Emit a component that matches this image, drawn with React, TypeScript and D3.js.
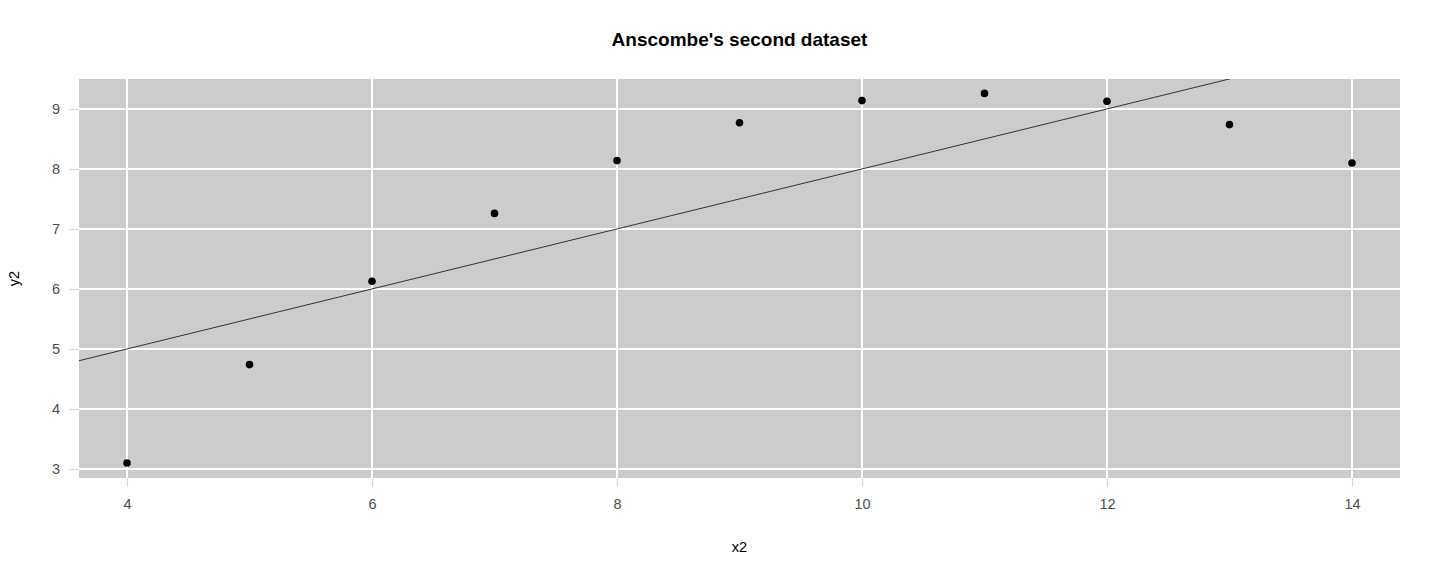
import { useEffect, useRef } from "react";
import * as d3 from "d3";

const x2 = [10, 8, 13, 9, 11, 14, 6, 4, 12, 7, 5];
const y2 = [9.14, 8.14, 8.74, 8.77, 9.26, 8.1, 6.13, 3.1, 9.13, 7.26, 4.74];
const xTicks = [4, 6, 8, 10, 12, 14];
const yTicks = [3, 4, 5, 6, 7, 8, 9];

export default function App() {
  const svgRef = useRef<SVGSVGElement>(null);

  useEffect(() => {
    if (!svgRef.current) return;
    const svg = d3.select(svgRef.current);
    svg.selectAll("*").remove();

    const width = 1440;
    const height = 576;
    const margin = { top: 79, right: 40, bottom: 98, left: 79 };
    const chartW = width - margin.left - margin.right;
    const chartH = height - margin.top - margin.bottom;
    const font = "'Liberation Sans', Arial, Helvetica, sans-serif";

    const x = d3.scaleLinear().domain([3.608, 14.392]).range([0, chartW]);
    const y = d3.scaleLinear().domain([2.85, 9.5]).range([chartH, 0]);

    // least squares fit
    const mx = d3.mean(x2)!;
    const my = d3.mean(y2)!;
    const slope =
      d3.sum(x2, (d, i) => (d - mx) * (y2[i] - my)) / d3.sum(x2, (d) => (d - mx) ** 2);
    const intercept = my - slope * mx;

    svg
      .append("defs")
      .append("clipPath")
      .attr("id", "plot-clip")
      .append("rect")
      .attr("width", chartW)
      .attr("height", chartH);

    const g = svg
      .append("g")
      .attr("transform", `translate(${margin.left},${margin.top})`);

    g.append("rect").attr("width", chartW).attr("height", chartH).attr("fill", "#cccccc");

    g.append("g")
      .selectAll("line")
      .data(xTicks)
      .join("line")
      .attr("x1", (d) => x(d))
      .attr("x2", (d) => x(d))
      .attr("y1", 0)
      .attr("y2", chartH)
      .attr("stroke", "#ffffff")
      .attr("stroke-width", 2);

    g.append("g")
      .selectAll("line")
      .data(yTicks)
      .join("line")
      .attr("y1", (d) => y(d))
      .attr("y2", (d) => y(d))
      .attr("x1", 0)
      .attr("x2", chartW)
      .attr("stroke", "#ffffff")
      .attr("stroke-width", 2);

    const dom = x.domain();
    g.append("line")
      .attr("clip-path", "url(#plot-clip)")
      .attr("x1", x(dom[0]))
      .attr("y1", y(intercept + slope * dom[0]))
      .attr("x2", x(dom[1]))
      .attr("y2", y(intercept + slope * dom[1]))
      .attr("stroke", "#333333")
      .attr("stroke-width", 1);

    g.append("g")
      .selectAll("circle")
      .data(x2)
      .join("circle")
      .attr("cx", (d) => x(d))
      .attr("cy", (d, i) => y(y2[i]))
      .attr("r", 3.8)
      .attr("fill", "#000000");

    g.append("g")
      .attr("transform", `translate(0,${chartH})`)
      .call(d3.axisBottom(x).tickValues(xTicks).tickSize(9).tickPadding(12).tickFormat((d) => String(d)))
      .call((a) => a.select(".domain").remove())
      .call((a) => a.selectAll(".tick line").attr("stroke", "#d9d9d9").attr("stroke-width", 1.2))
      .call((a) =>
        a.selectAll(".tick text").attr("fill", "#4d4d4d").attr("font-size", "14.5px").attr("font-family", font),
      );

    g.append("g")
      .call(d3.axisLeft(y).tickValues(yTicks).tickSize(10).tickPadding(9).tickFormat((d) => String(d)))
      .call((a) => a.select(".domain").remove())
      .call((a) => a.selectAll(".tick line").attr("stroke", "#d9d9d9").attr("stroke-width", 1.2))
      .call((a) =>
        a.selectAll(".tick text").attr("fill", "#4d4d4d").attr("font-size", "14.5px").attr("font-family", font),
      );

    svg
      .append("text")
      .attr("x", margin.left + chartW / 2)
      .attr("y", 46)
      .attr("text-anchor", "middle")
      .attr("font-family", font)
      .attr("font-weight", "bold")
      .attr("font-size", "19px")
      .text("Anscombe's second dataset");

    svg
      .append("text")
      .attr("x", margin.left + chartW / 2)
      .attr("y", 552)
      .attr("text-anchor", "middle")
      .attr("font-family", font)
      .attr("font-size", "14.5px")
      .text("x2");

    svg
      .append("text")
      .attr("transform", `translate(19,${margin.top + chartH / 2}) rotate(-90)`)
      .attr("text-anchor", "middle")
      .attr("font-family", font)
      .attr("font-size", "14.5px")
      .text("y2");
  }, []);

  return (
    <svg
      ref={svgRef}
      width={1440}
      height={576}
      style={{ position: "absolute", left: 0, top: 0, background: "#ffffff" }}
    />
  );
}
